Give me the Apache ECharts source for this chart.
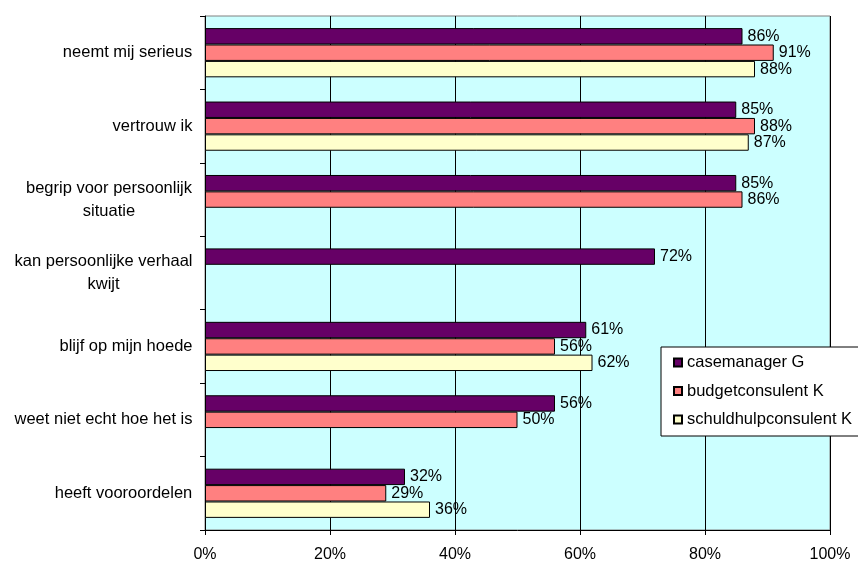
<!DOCTYPE html>
<html>
<head>
<meta charset="utf-8">
<script src="https://cdn.jsdelivr.net/npm/echarts@6/dist/echarts.min.js"></script>
<style>
  html, body { margin: 0; padding: 0; background: #ffffff; }
  #chart { width: 858px; height: 563px; }
</style>
</head>
<body>
<div id="chart"></div>
<script>
// Statements, top to bottom
var categories = [
  'neemt mij serieus',
  'vertrouw ik',
  'begrip voor persoonlijk\nsituatie',
  'kan persoonlijke verhaal\nkwijt',
  'blijf op mijn hoede',
  'weet niet echt hoe het is',
  'heeft vooroordelen'
];

var seriesNames = ['casemanager G', 'budgetconsulent K', 'schuldhulpconsulent K'];

// Percentages per statement (null = no answer)
var casemanagerG = [86, 85, 85, 72, 61, 56, 32];
var budgetconsulentK = [91, 88, 86, null, 56, 50, 29];
var schuldhulpconsulentK = [88, 87, null, null, 62, null, 36];

var xTicks = [0, 20, 40, 60, 80, 100];

var FONT = '"Liberation Sans", Arial, sans-serif';
var TEXT_SIZE = 16.5;
var NUM_SIZE = 16;
var colors = ['#660066', '#FF8080', '#FFFFCC'];

// Width of the longest line of each label, so wrapped lines are centred
var measureCtx = document.createElement('canvas').getContext('2d');
measureCtx.font = TEXT_SIZE + 'px ' + FONT;
var rich = {};
categories.forEach(function (c, i) {
  var w = 0;
  c.split('\n').forEach(function (l) { w = Math.max(w, measureCtx.measureText(l).width); });
  rich['c' + i] = {
    width: Math.ceil(w) + 1, align: 'center',
    fontSize: TEXT_SIZE, fontFamily: FONT, color: '#000', lineHeight: 23
  };
});

function makeSeries(name, data, color) {
  return {
    name: name,
    type: 'bar',
    data: data,
    barGap: '0%',
    barCategoryGap: '33%',
    itemStyle: { color: color, borderColor: '#000', borderWidth: 1 },
    label: {
      show: true,
      position: 'right',
      distance: 5,
      formatter: '{c}%',
      color: '#000',
      fontSize: NUM_SIZE,
      fontFamily: FONT
    },
    emphasis: { disabled: true },
    animation: false
  };
}

var chart = echarts.init(document.getElementById('chart'), null, { renderer: 'canvas' });
chart.setOption({
  animation: false,
  grid: {
    left: 205, right: 28, top: 16, bottom: 33,
    show: true,
    backgroundColor: '#CCFFFF',
    borderColor: '#808080',
    borderWidth: 1
  },
  legend: {
    data: seriesNames,
    orient: 'vertical',
    left: 661,
    top: 347,
    itemWidth: 8,
    itemHeight: 8,
    itemGap: 11.5,
    padding: [7, 8, 8, 12],
    backgroundColor: '#ffffff',
    borderColor: '#000000',
    borderWidth: 1,
    icon: 'rect',
    textStyle: { fontSize: TEXT_SIZE, lineHeight: 16, fontFamily: FONT, color: '#000' }
  },
  xAxis: {
    type: 'value',
    min: xTicks[0],
    max: xTicks[xTicks.length - 1],
    interval: xTicks[1] - xTicks[0],
    axisLine: { show: true, lineStyle: { color: '#000', width: 1 } },
    axisTick: { show: true, length: 5, lineStyle: { color: '#000' } },
    axisLabel: { formatter: '{value}%', fontSize: NUM_SIZE, fontFamily: FONT, color: '#000', margin: 17 },
    splitLine: { show: true, lineStyle: { color: '#000', width: 1 } }
  },
  yAxis: {
    type: 'category',
    data: categories,
    inverse: true,
    axisLine: { show: true, lineStyle: { color: '#000', width: 1 } },
    axisTick: { show: true, length: 5, lineStyle: { color: '#000' } },
    axisLabel: {
      margin: 12,
      formatter: function (value, idx) {
        return value.split('\n').map(function (l) { return '{c' + idx + '|' + l + '}'; }).join('\n');
      },
      rich: rich
    }
  },
  series: [
    makeSeries(seriesNames[0], casemanagerG, colors[0]),
    makeSeries(seriesNames[1], budgetconsulentK, colors[1]),
    makeSeries(seriesNames[2], schuldhulpconsulentK, colors[2])
  ]
});
</script>
</body>
</html>
